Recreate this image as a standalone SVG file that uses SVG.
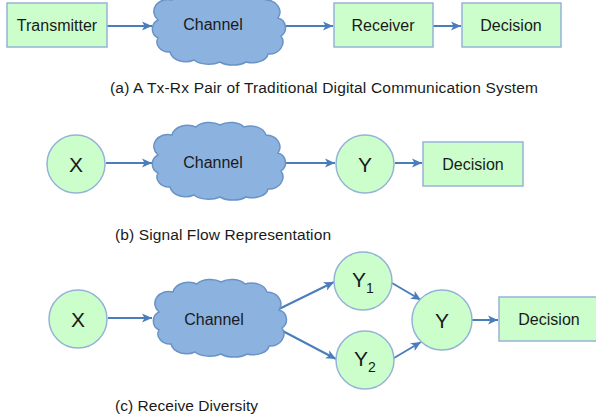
<svg xmlns="http://www.w3.org/2000/svg" xmlns:xlink="http://www.w3.org/1999/xlink" width="596" height="418" viewBox="0 0 596 418">
<style>
.box{fill:#ccfecc;stroke:#95b3d7;stroke-width:1.5}
.node{fill:#ccfecc;stroke:#95b3d7;stroke-width:1.5}
.cloud{fill:#8cb2e0;stroke:#6a93c6;stroke-width:1.5}
.lbl{font-family:"Liberation Sans",Arial,sans-serif;font-size:16px;fill:#1a1a1a;text-anchor:middle}
.big{font-family:"Liberation Sans",Arial,sans-serif;font-size:21px;fill:#1a1a1a;text-anchor:middle}
.cap{font-family:"Liberation Sans",Arial,sans-serif;font-size:15.5px;fill:#1a1a1a}
.edge{stroke:#4a7ebb;stroke-width:2;fill:none;marker-end:url(#ah)}
</style>
<defs>
<marker id="ah" markerUnits="userSpaceOnUse" markerWidth="12" markerHeight="12" viewBox="0 0 12 12" refX="11" refY="6" orient="auto">
<path d="M1,1.5 L11,6 L1,10.5 L3.5,6 Z" fill="#4a7ebb"/>
</marker>
<path id="cl" d="M-60,-6 a14,12 0 0 1 14,-20 a16,12 0 0 1 24,-8 a16,10 0 0 1 24,-2 a16,10 0 0 1 24,2 a16,12 0 0 1 22,8 a14,12 0 0 1 12,18 a10,10 0 0 1 3,18 a14,12 0 0 1 -13,18 a16,10 0 0 1 -22,8 a18,10 0 0 1 -26,0 a18,10 0 0 1 -26,-2 a16,12 0 0 1 -24,-8 a12,10 0 0 1 -12,-14 a10,10 0 0 1 0,-18 Z"/>
</defs>
<g id="connectors">
<line class="edge" x1="107" y1="26" x2="152" y2="26"/>
<line class="edge" x1="284" y1="26" x2="333" y2="26"/>
<line class="edge" x1="433" y1="26" x2="461" y2="26"/>
<line class="edge" x1="106" y1="163" x2="152" y2="163"/>
<line class="edge" x1="284" y1="163" x2="335" y2="163"/>
<line class="edge" x1="395" y1="163" x2="422" y2="163"/>
<line class="edge" x1="108" y1="318" x2="152" y2="318"/>
<line class="edge" x1="277" y1="310" x2="334" y2="282"/>
<line class="edge" x1="277" y1="328" x2="336" y2="359"/>
<line class="edge" x1="392" y1="283" x2="421" y2="300"/>
<line class="edge" x1="394" y1="358" x2="421" y2="342"/>
<line class="edge" x1="472" y1="320" x2="498" y2="320"/>
</g>
<g id="a-transmitter"><rect class="box" x="7" y="3" width="100" height="44"/><text class="lbl" x="57" y="31">Transmitter</text></g>
<g id="a-channel"><use xlink:href="#cl" class="cloud" transform="translate(218,26)"/><text class="lbl" x="213" y="30">Channel</text></g>
<g id="a-receiver"><rect class="box" x="334" y="3" width="99" height="44"/><text class="lbl" x="383" y="31">Receiver</text></g>
<g id="a-decision"><rect class="box" x="462" y="3" width="99" height="44"/><text class="lbl" x="511" y="31">Decision</text></g>
<text id="cap-a" class="cap" x="110" y="93" textLength="428" lengthAdjust="spacing">(a) A Tx-Rx Pair of Traditional Digital Communication System</text>
<g id="b-x"><circle class="node" cx="76" cy="164" r="29"/><text class="big" x="76" y="172">X</text></g>
<g id="b-channel"><use xlink:href="#cl" class="cloud" transform="translate(218,161)"/><text class="lbl" x="213" y="168">Channel</text></g>
<g id="b-y"><circle class="node" cx="365" cy="164" r="29"/><text class="big" x="365" y="172">Y</text></g>
<g id="b-decision"><rect class="box" x="423" y="142" width="100" height="44"/><text class="lbl" x="473" y="170">Decision</text></g>
<text id="cap-b" class="cap" x="115" y="240" textLength="216" lengthAdjust="spacing">(b) Signal Flow Representation</text>
<g id="c-x"><circle class="node" cx="78" cy="319" r="29"/><text class="big" x="78" y="327">X</text></g>
<g id="c-channel"><use xlink:href="#cl" class="cloud" transform="translate(219,318)"/><text class="lbl" x="214" y="325">Channel</text></g>
<g id="c-y1"><circle class="node" cx="363" cy="281" r="29"/><text class="big" x="363" y="287">Y<tspan font-size="14" dy="6">1</tspan></text></g>
<g id="c-y2"><circle class="node" cx="365" cy="360" r="29"/><text class="big" x="365" y="366">Y<tspan font-size="14" dy="6">2</tspan></text></g>
<g id="c-y"><circle class="node" cx="442" cy="320" r="30"/><text class="big" x="442" y="328">Y</text></g>
<g id="c-decision"><rect class="box" x="499" y="297" width="100" height="44"/><text class="lbl" x="549" y="325">Decision</text></g>
<text id="cap-c" class="cap" x="115" y="411" textLength="143" lengthAdjust="spacing">(c) Receive Diversity</text>
</svg>
